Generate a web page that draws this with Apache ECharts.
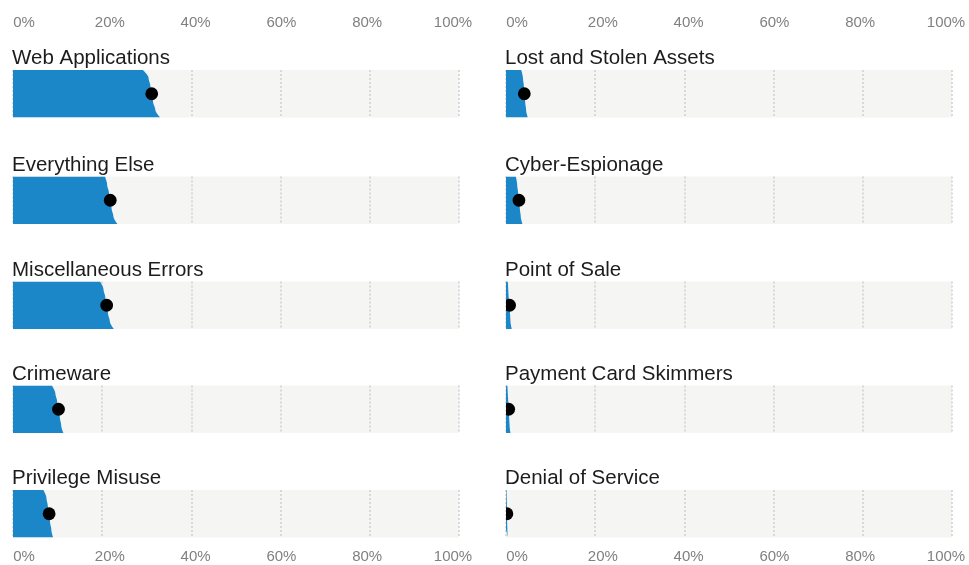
<!DOCTYPE html>
<html>
<head>
<meta charset="utf-8">
<script src="https://cdn.jsdelivr.net/npm/echarts@6/dist/echarts.min.js"></script>
<style>
  html, body { margin: 0; padding: 0; background: #ffffff; }
  #chart { width: 969px; height: 565px; }
</style>
</head>
<body>
<div id="chart"></div>
<script>
// Steps from the top of each band (lowest estimate) to the bottom (highest estimate)
const bandSteps = ['s0', 's1', 's2', 's3', 's4', 's5', 's6'];
const midStep = 3;

const leftNames = ['Web Applications', 'Everything Else', 'Miscellaneous Errors', 'Crimeware', 'Privilege Misuse'];
const rightNames = ['Lost and Stolen Assets', 'Cyber-Espionage', 'Point of Sale', 'Payment Card Skimmers', 'Denial of Service'];

// Share (%) at each step down the band; the middle step is the central estimate
const webApplications     = [29.1, 30.4, 30.8, 31.1, 31.4, 31.9, 33.0];
const everythingElse      = [20.6, 21.1, 21.5, 21.8, 22.1, 22.5, 23.4];
const miscellaneousErrors = [19.5, 20.3, 20.7, 21.0, 21.3, 21.7, 22.6];
const crimeware           = [8.7, 9.5, 9.9, 10.2, 10.5, 10.8, 11.3];
const privilegeMisuse     = [6.8, 7.5, 7.8, 8.1, 8.3, 8.6, 9.0];
const lostAndStolenAssets = [3.4, 3.8, 4.0, 4.1, 4.3, 4.5, 4.9];
const cyberEspionage      = [2.2, 2.5, 2.7, 2.9, 3.1, 3.3, 3.7];
const pointOfSale         = [0.4, 0.5, 0.6, 0.8, 0.9, 1.0, 1.3];
const paymentCardSkimmers = [0.3, 0.4, 0.5, 0.6, 0.7, 0.8, 1.0];
const denialOfService     = [0.1, 0.15, 0.2, 0.2, 0.25, 0.3, 0.4];

const leftValues = [webApplications, everythingElse, miscellaneousErrors, crimeware, privilegeMisuse];
const rightValues = [lostAndStolenAssets, cyberEspionage, pointOfSale, paymentCardSkimmers, denialOfService];

const tickValues = [0, 20, 40, 60, 80, 100];

// Layout
const FONT = '"Liberation Sans", Arial, sans-serif';
const BLUE = '#1b87c8';
const columnLeft = [13, 506];
const bandWidth = 446;
const rowTop = [70, 176.5, 281.5, 385.5, 490];
const bandHeight = 47.5;

const grids = [], xAxes = [], yAxes = [], series = [], titles = [];

function addPanel(name, values, col, row) {
  const idx = grids.length;
  const left = columnLeft[col];
  const top = rowTop[row];
  grids.push({
    left: left, top: top, width: bandWidth, height: bandHeight,
    show: true, backgroundColor: '#f5f5f3', borderWidth: 0
  });
  xAxes.push({
    gridIndex: idx, type: 'value', min: 0, max: 100, interval: 20,
    axisLine: { show: false }, axisTick: { show: false }, axisLabel: { show: false },
    splitLine: { show: true, lineStyle: { color: '#cfcfcf', width: 1.5, type: [2, 2] } }
  });
  yAxes.push({
    gridIndex: idx, type: 'category', data: bandSteps, inverse: true, boundaryGap: false,
    axisLine: { show: false }, axisTick: { show: false }, axisLabel: { show: false },
    splitLine: { show: false }
  });
  series.push({
    type: 'line', xAxisIndex: idx, yAxisIndex: idx,
    data: values.map((v, i) => [v, bandSteps[i]]),
    smooth: 0.35, smoothMonotone: 'y', symbol: 'none', silent: true,
    lineStyle: { width: 0, color: BLUE },
    areaStyle: { color: BLUE, opacity: 1 },
    z: 2
  });
  series.push({
    type: 'custom', xAxisIndex: idx, yAxisIndex: idx, clip: true, silent: true,
    data: [[values[midStep], midStep]],
    renderItem: function (params, api) {
      const p = api.coord([api.value(0), api.value(1)]);
      return { type: 'circle', shape: { cx: p[0], cy: p[1], r: 6.4 }, style: { fill: '#000000' } };
    },
    z: 3
  });
  titles.push({
    text: name, left: left - 1, top: top - 22, padding: 0,
    textStyle: { fontFamily: FONT, fontSize: 20.5, fontWeight: 'normal', color: '#1c1c1c' }
  });
}

leftNames.forEach((n, i) => addPanel(n, leftValues[i], 0, i));
rightNames.forEach((n, i) => addPanel(n, rightValues[i], 1, i));

// Percentage scales above and below the columns
function addScale(left, axisY) {
  const idx = grids.length;
  grids.push({ left: left, top: axisY - 1, width: 429, height: 1, show: false });
  xAxes.push({
    gridIndex: idx, type: 'value', min: tickValues[0], max: tickValues[tickValues.length - 1], interval: 20,
    position: 'bottom',
    axisLine: { show: false }, axisTick: { show: false }, splitLine: { show: false },
    axisLabel: {
      show: true, margin: 0, verticalAlign: 'middle', color: '#808080',
      fontFamily: FONT, fontSize: 15, formatter: '{value}%'
    }
  });
  yAxes.push({ gridIndex: idx, type: 'value', show: false });
}
addScale(24, 22.5);
addScale(517, 22.5);
addScale(24, 556.5);
addScale(517, 556.5);

const chart = echarts.init(document.getElementById('chart'), null, { renderer: 'canvas' });
chart.setOption({
  animation: false,
  backgroundColor: '#ffffff',
  title: titles,
  grid: grids,
  xAxis: xAxes,
  yAxis: yAxes,
  series: series
});
</script>
</body>
</html>
